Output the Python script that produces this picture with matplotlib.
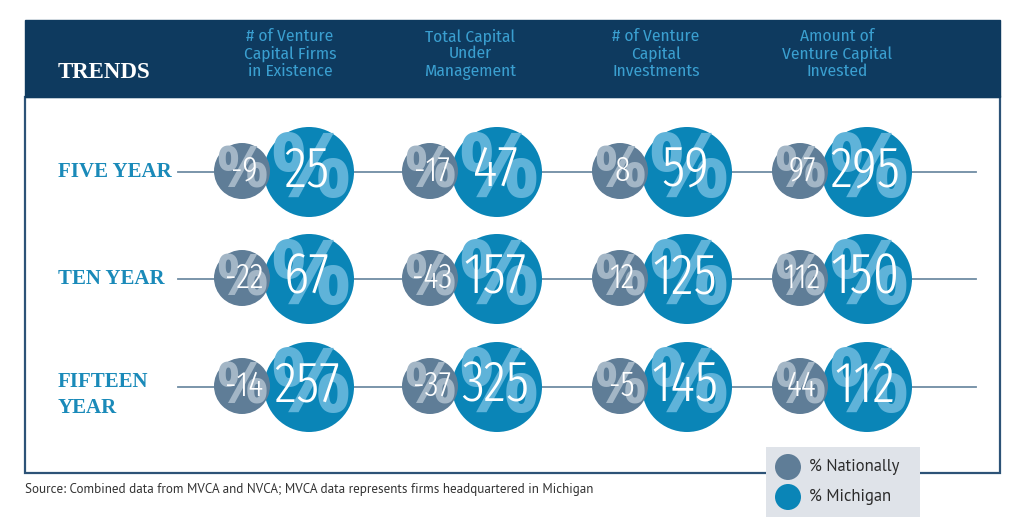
import matplotlib
matplotlib.use("Agg")
import matplotlib.pyplot as plt
from matplotlib.patches import Circle, Rectangle

# Data
row_labels = ["FIVE YEAR", "TEN YEAR", "FIFTEEN\nYEAR"]
col_headers = [
    "# of Venture\nCapital Firms\nin Existence",
    "Total Capital\nUnder\nManagement",
    "# of Venture\nCapital\nInvestments",
    "Amount of\nVenture Capital\nInvested",
]
national = [
    [-9, -17, 8, 97],
    [-22, -43, 12, 112],
    [-14, -37, -5, 44],
]
michigan = [
    [25, 47, 59, 295],
    [67, 157, 125, 150],
    [257, 325, 145, 112],
]
legend_labels = ["% Nationally", "% Michigan"]
source = "Source: Combined data from MVCA and NVCA; MVCA data represents firms headquartered in Michigan"

# Layout (pixels)
W, H = 1024, 532
row_y = [172, 279, 387]
col_x = [242, 430, 620, 800]      # national circle centres
mich_dx = 67                       # offset to Michigan circle
header_x = [290, 470, 656, 837]

NAVY = "#0e3a5f"
BORDER = "#2d5377"
GRAY = "#5f7d97"
GRAY_LIGHT = "#a3b6c6"
BLUE = "#0a85b7"
BLUE_LIGHT = "#5fb3d9"
LABEL_BLUE = "#1a8ab9"
HEAD_BLUE = "#3a9fd0"
NUM_FONT = ["Fira Sans Extra Condensed", "DejaVu Sans"]
HEAD_FONT = ["Fira Sans Condensed", "DejaVu Sans"]
BODY_FONT = ["PT Sans", "DejaVu Sans"]
PCT_FONT = ["Open Sans", "DejaVu Sans"]
SERIF = ["Liberation Serif", "DejaVu Serif"]

fig = plt.figure(figsize=(W / 100, H / 100), dpi=100)
ax = fig.add_axes([0, 0, 1, 1])
ax.set_xlim(0, W)
ax.set_ylim(H, 0)
ax.axis("off")

# frame and header band
ax.add_patch(Rectangle((25, 97), 975, 376, facecolor="white", edgecolor=BORDER, lw=1.6, zorder=1))
ax.add_patch(Rectangle((25, 20), 975, 77, facecolor=NAVY, edgecolor=NAVY, lw=1, zorder=2))
ax.text(58, 73, "TRENDS", color="white", fontsize=16.5, fontweight="bold", family=SERIF,
        ha="left", va="center", zorder=3)
for x, h in zip(header_x, col_headers):
    ax.text(x, 54, h, color=HEAD_BLUE, fontsize=12.5, family=HEAD_FONT,
            ha="center", va="center", linespacing=1.1, zorder=3)

# rows
for r, y in enumerate(row_y):
    ax.plot([178, 976], [y, y], color="#6f8ca4", lw=1.3, zorder=2)
    lab = row_labels[r]
    if "\n" in lab:
        top, bot = lab.split("\n")
        ax.text(58, y - 5, top, color=LABEL_BLUE, fontsize=15, fontweight="bold",
                family=SERIF, ha="left", va="center", zorder=3)
        ax.text(58, y + 21, bot, color=LABEL_BLUE, fontsize=15, fontweight="bold",
                family=SERIF, ha="left", va="center", zorder=3)
    else:
        ax.text(58, y, lab, color=LABEL_BLUE, fontsize=15, fontweight="bold",
                family=SERIF, ha="left", va="center", zorder=3)
    for c, x in enumerate(col_x):
        mx = x + mich_dx
        ax.add_patch(Circle((mx, y), 45, facecolor=BLUE, edgecolor="none", zorder=3))
        ax.text(mx + 1, y + 2, "%", color=BLUE_LIGHT, fontsize=64, fontweight="bold",
                family=PCT_FONT, ha="center", va="center", zorder=4)
        ax.add_patch(Circle((x, y - 1), 28, facecolor=GRAY, edgecolor="none", zorder=5))
        ax.text(x, y + 1, "%", color=GRAY_LIGHT, fontsize=41, fontweight="bold",
                family=PCT_FONT, ha="center", va="center", zorder=6)
        ax.text(x + 2, y - 1, str(national[r][c]), color="white", fontsize=25, fontweight=300,
                family=NUM_FONT, ha="center", va="center", zorder=7)
        ax.text(mx - 2, y - 1, str(michigan[r][c]), color="white", fontsize=41, fontweight=300,
                family=NUM_FONT, ha="center", va="center", zorder=8)

# legend
ax.add_patch(Rectangle((766, 447), 154, 70, facecolor="#dfe3e9", edgecolor="none", zorder=9))
for i, (lab, col) in enumerate(zip(legend_labels, [GRAY, BLUE])):
    ly = 467 + 30 * i
    ax.add_patch(Circle((788, ly), 13, facecolor=col, edgecolor="none", zorder=10))
    ax.text(809, ly, lab, color="#2b2b2b", fontsize=12, family=BODY_FONT, ha="left", va="center",
            zorder=10)

ax.text(25, 490, source, color="#333333", fontsize=9.45, family=BODY_FONT, ha="left", va="center")

fig.savefig("out.png", dpi=100)
